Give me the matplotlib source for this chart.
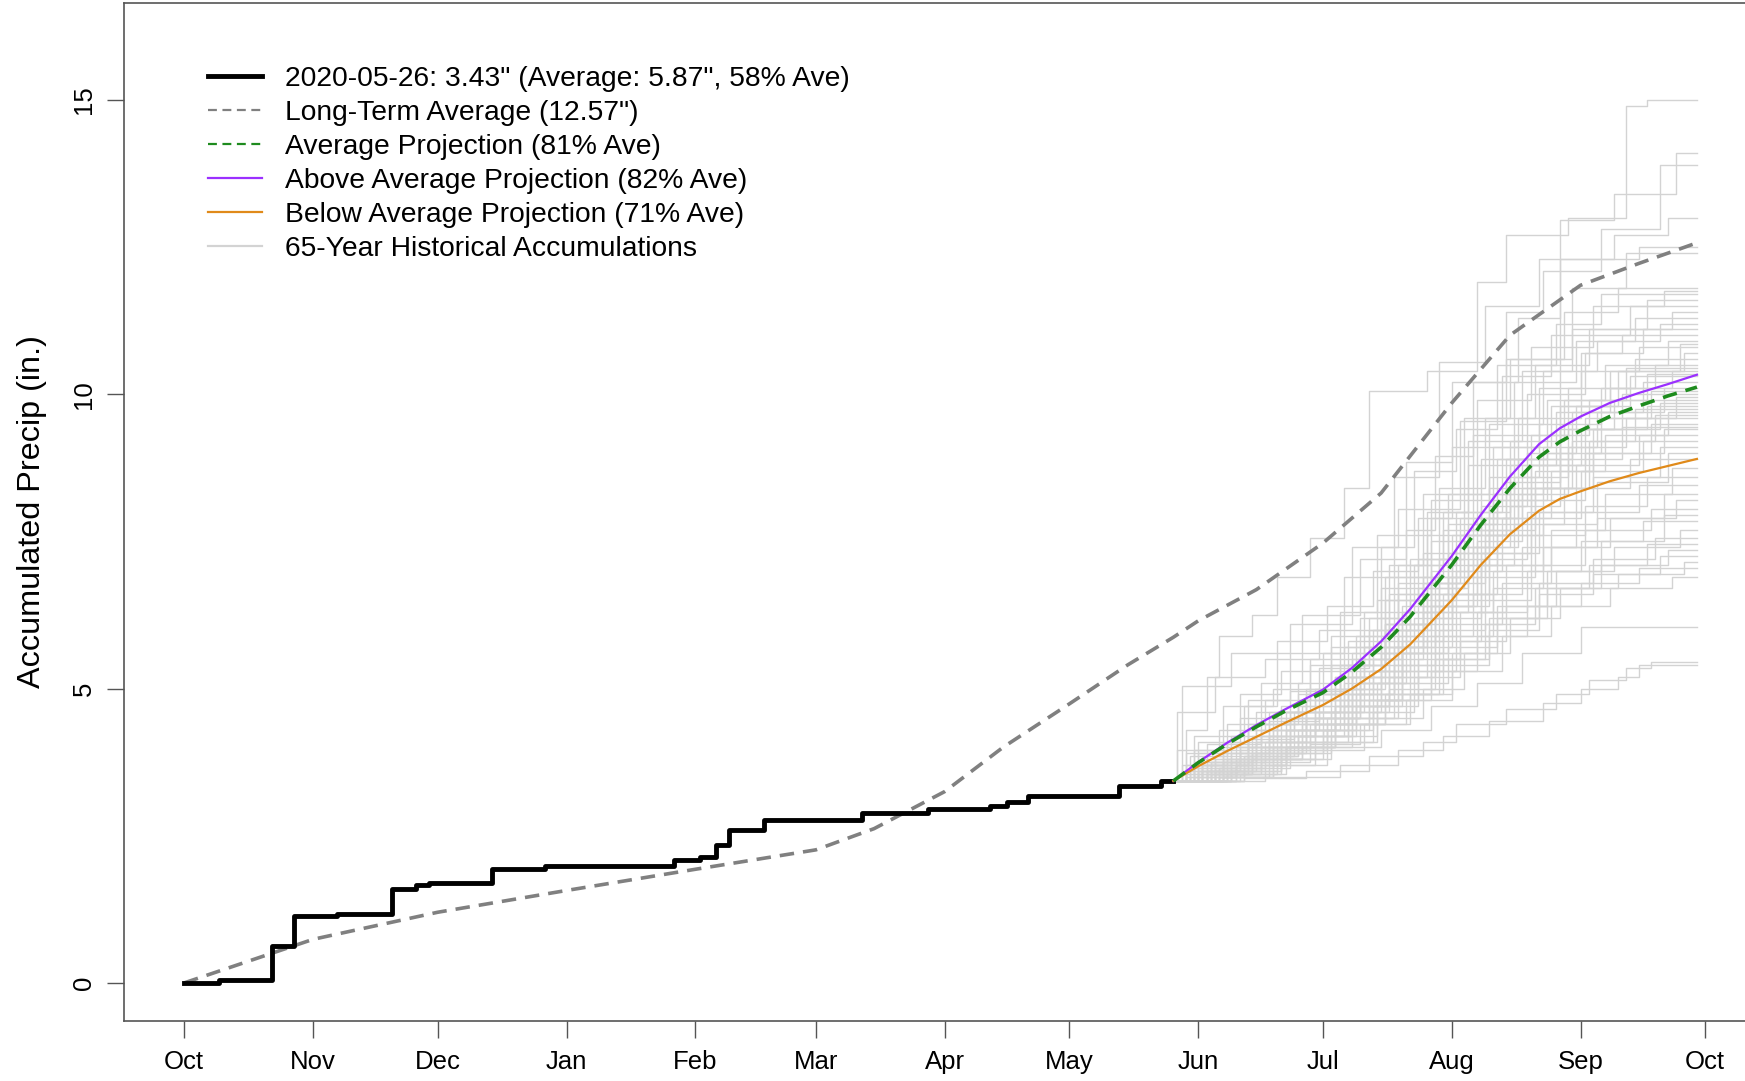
import matplotlib.pyplot as plt
from matplotlib.lines import Line2D

plt.rcParams['font.family'] = ['Liberation Sans', 'DejaVu Sans']

# Day of water year (0 = Oct 1, 2019)
month_days = [0, 31, 61, 92, 123, 152, 183, 213, 244, 274, 305, 336, 366]
month_labels = ['Oct', 'Nov', 'Dec', 'Jan', 'Feb', 'Mar', 'Apr', 'May',
                'Jun', 'Jul', 'Aug', 'Sep', 'Oct']

# Current water year accumulation (through 2020-05-26)
cur_days = [0, 8.4, 21.2, 26.4, 36.8, 50, 55.7, 58.9, 74.1, 86.9, 117.8, 124,
            128, 131, 139.5, 163, 179, 194, 198, 203, 225, 235, 238]
cur_vals = [0, 0.05, 0.63, 1.14, 1.17, 1.59, 1.66, 1.69, 1.93, 1.98, 2.08, 2.14,
            2.34, 2.60, 2.76, 2.88, 2.95, 3.01, 3.08, 3.17, 3.35, 3.43, 3.43]

# Long-term average
lta_days = [0, 31, 61, 92, 123, 152, 166, 183, 197, 213, 227, 238, 244, 258,
            274, 288, 305, 319, 336, 350, 364]
lta_vals = [0, 0.74, 1.20, 1.57, 1.93, 2.26, 2.62, 3.25, 4.00, 4.74, 5.40, 5.87,
            6.15, 6.68, 7.47, 8.32, 9.85, 11.0, 11.85, 12.22, 12.57]

# Projections
proj_days = [238, 244, 251, 258, 265, 274, 281, 288, 295, 305, 312, 319, 326,
             331, 336, 343, 350, 357, 364]
proj_above = [3.43, 3.75, 4.08, 4.38, 4.65, 4.98, 5.35, 5.80, 6.35, 7.25, 7.95,
              8.60, 9.15, 9.42, 9.62, 9.85, 10.02, 10.17, 10.33]
proj_avg = [3.43, 3.74, 4.06, 4.35, 4.62, 4.93, 5.28, 5.70, 6.22, 7.10, 7.78,
            8.40, 8.93, 9.19, 9.38, 9.62, 9.80, 9.97, 10.12]
proj_below = [3.43, 3.68, 3.94, 4.18, 4.42, 4.72, 5.00, 5.33, 5.75, 6.50, 7.10,
              7.62, 8.02, 8.22, 8.35, 8.52, 8.66, 8.78, 8.90]

# Historical accumulations from the current value: (day, total) steps
start_day, start_val, end_day = 238, 3.43, 364
hist_traces = [
    [(241, 4.30), (246, 5.20), (249, 5.90), (257, 6.25), (263, 6.90), (271, 7.55), (279, 8.40), (285, 10.05), (299, 10.40), (311, 11.90), (318, 12.70), (333, 13.00), (347, 14.90), (352, 15.00)],
    [(252, 3.90), (262, 4.50), (276, 5.40), (289, 6.50), (298, 7.30), (314, 8.40), (331, 12.95), (344, 13.40), (359, 14.10)],
    [(246, 4.05), (259, 5.10), (269, 6.25), (283, 7.20), (294, 8.85), (305, 10.20), (318, 11.40), (327, 12.10), (341, 12.80), (355, 13.90)],
    [(243, 3.95), (256, 4.80), (266, 5.60), (279, 6.90), (291, 8.60), (302, 10.55), (313, 11.50), (326, 12.30), (344, 12.70), (357, 13.00)],
    [(248, 3.80), (261, 4.45), (273, 5.35), (285, 6.20), (294, 7.70), (301, 8.95), (310, 10.20), (321, 11.30), (331, 12.30), (350, 12.50)],
    [(240, 5.05), (252, 5.60), (266, 6.10), (281, 7.40), (292, 8.05), (307, 9.55), (318, 10.60), (334, 11.80), (347, 12.40)],
    [(245, 3.70), (257, 4.20), (270, 5.00), (282, 5.90), (290, 7.10), (298, 8.30), (308, 9.60), (319, 10.60), (332, 11.40), (345, 11.80)],
    [(250, 4.00), (258, 4.60), (268, 4.90), (278, 6.30), (287, 7.60), (300, 8.20), (311, 9.90), (324, 10.80), (339, 11.50), (356, 11.75)],
    [(241, 3.60), (254, 4.90), (264, 5.30), (276, 5.90), (288, 7.40), (296, 8.70), (306, 9.40), (316, 10.50), (330, 11.20), (341, 11.70)],
    [(247, 3.75), (260, 4.10), (272, 4.80), (281, 5.60), (289, 6.90), (299, 8.00), (309, 9.20), (322, 10.40), (334, 11.10), (352, 11.60)],
    [(244, 4.10), (255, 4.70), (263, 5.80), (275, 6.40), (286, 7.00), (297, 7.90), (305, 9.10), (317, 10.30), (329, 11.00), (348, 11.50)],
    [(249, 3.65), (262, 4.00), (274, 4.60), (284, 5.50), (292, 6.80), (302, 8.40), (313, 9.60), (325, 10.50), (338, 11.10), (358, 11.40)],
    [(242, 3.85), (251, 4.40), (266, 4.95), (279, 5.70), (290, 6.60), (300, 7.90), (310, 9.30), (320, 10.20), (335, 10.90), (349, 11.30)],
    [(253, 3.70), (265, 4.30), (277, 5.20), (286, 6.00), (295, 7.20), (304, 8.30), (314, 9.50), (327, 10.40), (340, 10.90), (355, 11.20)],
    [(239, 4.60), (248, 5.20), (260, 5.50), (273, 6.00), (288, 6.70), (299, 7.60), (312, 8.90), (323, 10.00), (337, 10.70), (351, 11.10)],
    [(246, 3.60), (258, 3.90), (269, 4.70), (280, 5.80), (291, 6.90), (303, 7.70), (315, 9.10), (326, 10.10), (336, 10.70), (346, 11.00)],
    [(244, 3.55), (256, 4.15), (267, 4.50), (281, 5.20), (293, 6.40), (304, 7.80), (316, 8.90), (328, 9.90), (342, 10.50), (357, 10.90)],
    [(251, 3.80), (263, 4.60), (271, 5.50), (284, 6.30), (296, 7.10), (306, 8.00), (317, 9.10), (329, 9.80), (343, 10.40), (360, 10.85)],
    [(240, 3.70), (252, 4.20), (265, 4.60), (278, 5.40), (289, 6.10), (300, 7.50), (309, 8.80), (321, 9.60), (336, 10.40), (350, 10.80)],
    [(248, 3.60), (259, 4.30), (270, 4.80), (282, 5.10), (294, 6.00), (305, 7.60), (318, 8.90), (331, 9.80), (345, 10.40), (361, 10.70)],
    [(243, 4.20), (254, 4.50), (268, 5.10), (276, 5.70), (287, 6.50), (297, 7.20), (308, 8.30), (320, 9.30), (333, 10.10), (349, 10.60)],
    [(249, 3.50), (261, 3.80), (272, 4.40), (285, 5.30), (295, 6.50), (306, 7.40), (314, 8.60), (326, 9.50), (341, 10.10), (354, 10.50)],
    [(241, 3.90), (250, 4.70), (262, 5.00), (274, 5.60), (283, 6.20), (292, 7.10), (303, 8.00), (319, 9.20), (332, 9.90), (347, 10.45)],
    [(255, 3.65), (266, 4.00), (277, 4.70), (288, 5.60), (298, 6.80), (307, 7.90), (319, 8.80), (330, 9.70), (343, 10.10), (358, 10.40)],
    [(245, 3.80), (258, 4.40), (270, 4.90), (281, 5.50), (293, 6.30), (302, 7.20), (311, 8.20), (324, 9.30), (338, 9.90), (352, 10.35)],
    [(247, 3.55), (257, 3.80), (269, 4.10), (280, 4.90), (291, 5.80), (301, 6.90), (312, 8.10), (323, 9.00), (335, 9.80), (348, 10.30)],
    [(242, 3.65), (253, 4.00), (264, 4.70), (276, 5.30), (289, 6.10), (300, 7.00), (310, 7.90), (321, 8.90), (334, 9.70), (351, 10.20)],
    [(250, 3.75), (262, 4.30), (273, 4.60), (283, 5.60), (292, 6.60), (304, 7.30), (315, 8.30), (327, 9.10), (340, 9.70), (356, 10.10)],
    [(244, 3.60), (254, 3.95), (266, 4.50), (279, 5.10), (290, 5.70), (299, 6.80), (309, 7.80), (322, 8.80), (337, 9.60), (353, 10.05)],
    [(239, 3.95), (249, 4.30), (260, 4.80), (271, 5.40), (285, 6.00), (297, 6.70), (309, 7.70), (320, 8.60), (333, 9.40), (346, 10.00)],
    [(252, 3.60), (264, 4.10), (275, 4.50), (286, 5.30), (296, 6.20), (305, 7.10), (316, 8.20), (328, 9.00), (341, 9.60), (359, 9.95)],
    [(246, 3.70), (256, 4.30), (267, 4.60), (278, 5.00), (288, 5.90), (298, 6.90), (307, 7.60), (318, 8.50), (331, 9.40), (344, 9.90)],
    [(243, 3.50), (255, 3.85), (268, 4.20), (281, 4.80), (293, 5.60), (303, 6.60), (314, 7.70), (325, 8.70), (339, 9.40), (355, 9.85)],
    [(248, 3.85), (259, 4.20), (272, 5.00), (284, 5.70), (294, 6.30), (304, 6.90), (313, 7.90), (324, 8.80), (336, 9.40), (352, 9.80)],
    [(241, 3.70), (251, 4.10), (263, 4.40), (277, 5.20), (289, 6.00), (300, 6.60), (311, 7.50), (322, 8.40), (334, 9.20), (349, 9.75)],
    [(254, 3.55), (265, 4.00), (275, 4.40), (287, 5.10), (297, 6.10), (306, 7.00), (317, 7.90), (329, 8.70), (342, 9.30), (357, 9.70)],
    [(245, 3.75), (257, 4.00), (270, 4.50), (283, 5.30), (292, 5.90), (302, 6.80), (313, 7.60), (325, 8.40), (338, 9.20), (354, 9.65)],
    [(240, 3.60), (250, 3.90), (261, 4.60), (274, 4.90), (286, 5.50), (298, 6.40), (310, 7.40), (321, 8.30), (333, 9.10), (347, 9.60)],
    [(249, 3.65), (260, 3.95), (271, 4.30), (282, 4.90), (291, 5.70), (301, 6.50), (312, 7.30), (324, 8.20), (337, 9.00), (353, 9.50)],
    [(244, 3.90), (256, 4.40), (268, 4.80), (280, 5.40), (290, 6.10), (299, 6.70), (308, 7.40), (319, 8.10), (331, 8.90), (346, 9.45)],
    [(251, 3.55), (263, 3.90), (274, 4.30), (285, 4.80), (295, 5.70), (305, 6.60), (316, 7.60), (327, 8.40), (339, 9.00), (356, 9.40)],
    [(247, 3.70), (258, 4.10), (269, 4.40), (279, 5.00), (289, 5.60), (300, 6.40), (311, 7.20), (323, 8.00), (335, 8.80), (350, 9.30)],
    [(242, 3.55), (253, 3.80), (265, 4.30), (277, 4.70), (290, 5.40), (301, 6.20), (312, 7.10), (324, 7.90), (336, 8.70), (351, 9.20)],
    [(250, 3.80), (261, 4.20), (272, 4.50), (283, 5.10), (293, 5.80), (303, 6.40), (314, 7.30), (326, 8.00), (339, 8.60), (355, 9.10)],
    [(246, 3.60), (257, 3.90), (270, 4.20), (282, 4.80), (293, 5.60), (304, 6.30), (315, 7.00), (327, 7.80), (340, 8.50), (357, 9.00)],
    [(243, 3.75), (254, 4.00), (266, 4.60), (278, 5.20), (288, 5.70), (298, 6.30), (309, 7.10), (320, 7.80), (332, 8.40), (348, 8.90)],
    [(253, 3.60), (264, 3.90), (276, 4.20), (287, 4.80), (297, 5.50), (307, 6.30), (318, 7.10), (329, 7.70), (342, 8.30), (358, 8.75)],
    [(248, 3.65), (259, 4.00), (271, 4.40), (281, 4.90), (291, 5.40), (302, 6.00), (313, 6.90), (325, 7.60), (337, 8.10), (352, 8.60)],
    [(241, 3.55), (252, 3.75), (264, 4.10), (276, 4.60), (288, 5.20), (299, 5.90), (310, 6.60), (322, 7.40), (335, 8.00), (350, 8.45)],
    [(245, 3.70), (256, 4.00), (268, 4.30), (280, 4.80), (292, 5.30), (303, 5.90), (315, 6.70), (327, 7.40), (340, 7.90), (356, 8.30)],
    [(250, 3.50), (262, 3.80), (274, 4.10), (286, 4.60), (296, 5.30), (306, 6.10), (317, 6.80), (329, 7.40), (343, 7.90), (359, 8.20)],
    [(244, 3.60), (255, 3.85), (267, 4.20), (279, 4.70), (290, 5.20), (301, 5.80), (312, 6.50), (324, 7.10), (337, 7.70), (353, 8.05)],
    [(247, 3.75), (258, 4.10), (270, 4.40), (282, 4.70), (293, 5.10), (304, 5.70), (316, 6.40), (328, 7.00), (341, 7.50), (356, 7.95)],
    [(242, 3.50), (253, 3.70), (265, 4.00), (277, 4.40), (289, 4.90), (300, 5.60), (311, 6.30), (323, 7.00), (336, 7.50), (351, 7.85)],
    [(251, 3.60), (263, 3.95), (275, 4.30), (286, 4.70), (297, 5.20), (307, 5.80), (318, 6.40), (330, 7.00), (344, 7.40), (360, 7.70)],
    [(246, 3.55), (257, 3.80), (269, 4.00), (281, 4.50), (292, 4.90), (303, 5.50), (314, 6.20), (326, 6.80), (339, 7.20), (354, 7.55)],
    [(243, 3.65), (254, 3.90), (266, 4.30), (278, 4.60), (290, 5.00), (301, 5.50), (313, 6.10), (325, 6.70), (338, 7.10), (352, 7.45)],
    [(249, 3.50), (260, 3.70), (272, 3.95), (284, 4.40), (295, 4.90), (305, 5.60), (316, 6.20), (328, 6.70), (341, 7.10), (357, 7.35)],
    [(245, 3.60), (256, 3.85), (268, 4.20), (280, 4.50), (291, 4.90), (302, 5.40), (314, 6.00), (326, 6.60), (339, 6.95), (355, 7.25)],
    [(252, 3.55), (264, 3.80), (276, 4.10), (287, 4.50), (298, 5.00), (308, 5.60), (319, 6.20), (331, 6.70), (345, 6.95), (361, 7.15)],
    [(241, 3.50), (253, 3.70), (265, 4.00), (277, 4.40), (289, 4.80), (300, 5.30), (311, 5.90), (323, 6.40), (336, 6.80), (350, 7.05)],
    [(248, 3.55), (259, 3.75), (271, 4.05), (283, 4.40), (294, 4.80), (305, 5.30), (317, 5.90), (329, 6.40), (343, 6.70), (358, 6.90)],
    [(250, 3.50), (262, 3.70), (275, 4.00), (288, 4.30), (300, 4.70), (311, 5.10), (322, 5.60), (336, 6.05)],
    [(255, 3.48), (270, 3.60), (285, 3.85), (298, 4.10), (306, 4.40), (318, 4.65), (330, 4.90), (338, 5.15), (347, 5.35), (353, 5.45)],
    [(260, 3.50), (278, 3.70), (292, 3.95), (303, 4.20), (314, 4.45), (327, 4.75), (336, 5.00), (345, 5.20), (350, 5.40)],
]

legend_labels = ['2020-05-26: 3.43" (Average: 5.87", 58% Ave)',
                 'Long-Term Average (12.57")',
                 'Average Projection (81% Ave)',
                 'Above Average Projection (82% Ave)',
                 'Below Average Projection (71% Ave)',
                 '65-Year Historical Accumulations']

fig = plt.figure(figsize=(17.45, 10.81), dpi=100)
ax = fig.add_axes([0.0708, 0.0559, 0.9388, 0.9411])

for tr in hist_traces:
    d = [start_day] + [p[0] for p in tr] + [end_day]
    v = [start_val] + [p[1] for p in tr] + [tr[-1][1]]
    ax.plot(d, v, drawstyle='steps-post', color='#d3d3d3', lw=1.0, zorder=1)

ax.plot(lta_days, lta_vals, color='#808080', lw=2.6, dashes=(4, 2.5), zorder=2)
ax.plot(cur_days, cur_vals, drawstyle='steps-post', color='black', lw=3.5, zorder=3)
ax.plot(proj_days, proj_above, color='#9B30FF', lw=1.6, zorder=4)
ax.plot(proj_days, proj_below, color='#E08A1A', lw=1.6, zorder=4)
ax.plot(proj_days, proj_avg, color='#1E8B1E', lw=2.6, dashes=(4, 2.5), zorder=5)

handles = [Line2D([], [], color='black', lw=3.5),
           Line2D([], [], color='#808080', lw=1.6, dashes=(4, 2.5)),
           Line2D([], [], color='#1E8B1E', lw=1.6, dashes=(4, 2.5)),
           Line2D([], [], color='#9B30FF', lw=1.6),
           Line2D([], [], color='#E08A1A', lw=1.6),
           Line2D([], [], color='#d3d3d3', lw=1.6)]
ax.legend(handles, legend_labels, loc='upper left', frameon=False, fontsize=20.3,
          bbox_to_anchor=(0.1192, 0.9389), bbox_transform=fig.transFigure,
          borderpad=0, borderaxespad=0, handlelength=1.92, handletextpad=0.8,
          labelspacing=0.28)

ax.set_xlim(-14.6, 379.6)
ax.set_ylim(-0.64, 16.64)
ax.set_xticks(month_days)
ax.set_xticklabels(month_labels)
ax.set_yticks([0, 5, 10, 15])
ax.tick_params(axis='both', labelsize=18.5, length=12, width=1.0, color='#555555')
ax.tick_params(axis='x', pad=9)
ax.tick_params(axis='y', labelrotation=90, pad=8)
for lbl in ax.get_yticklabels():
    lbl.set_va('center')
ax.set_ylabel('Accumulated Precip (in.)', fontsize=23.3, labelpad=18)
for s in ax.spines.values():
    s.set_color('#555555')
    s.set_linewidth(1.2)

fig.savefig('out.png', dpi=100)
